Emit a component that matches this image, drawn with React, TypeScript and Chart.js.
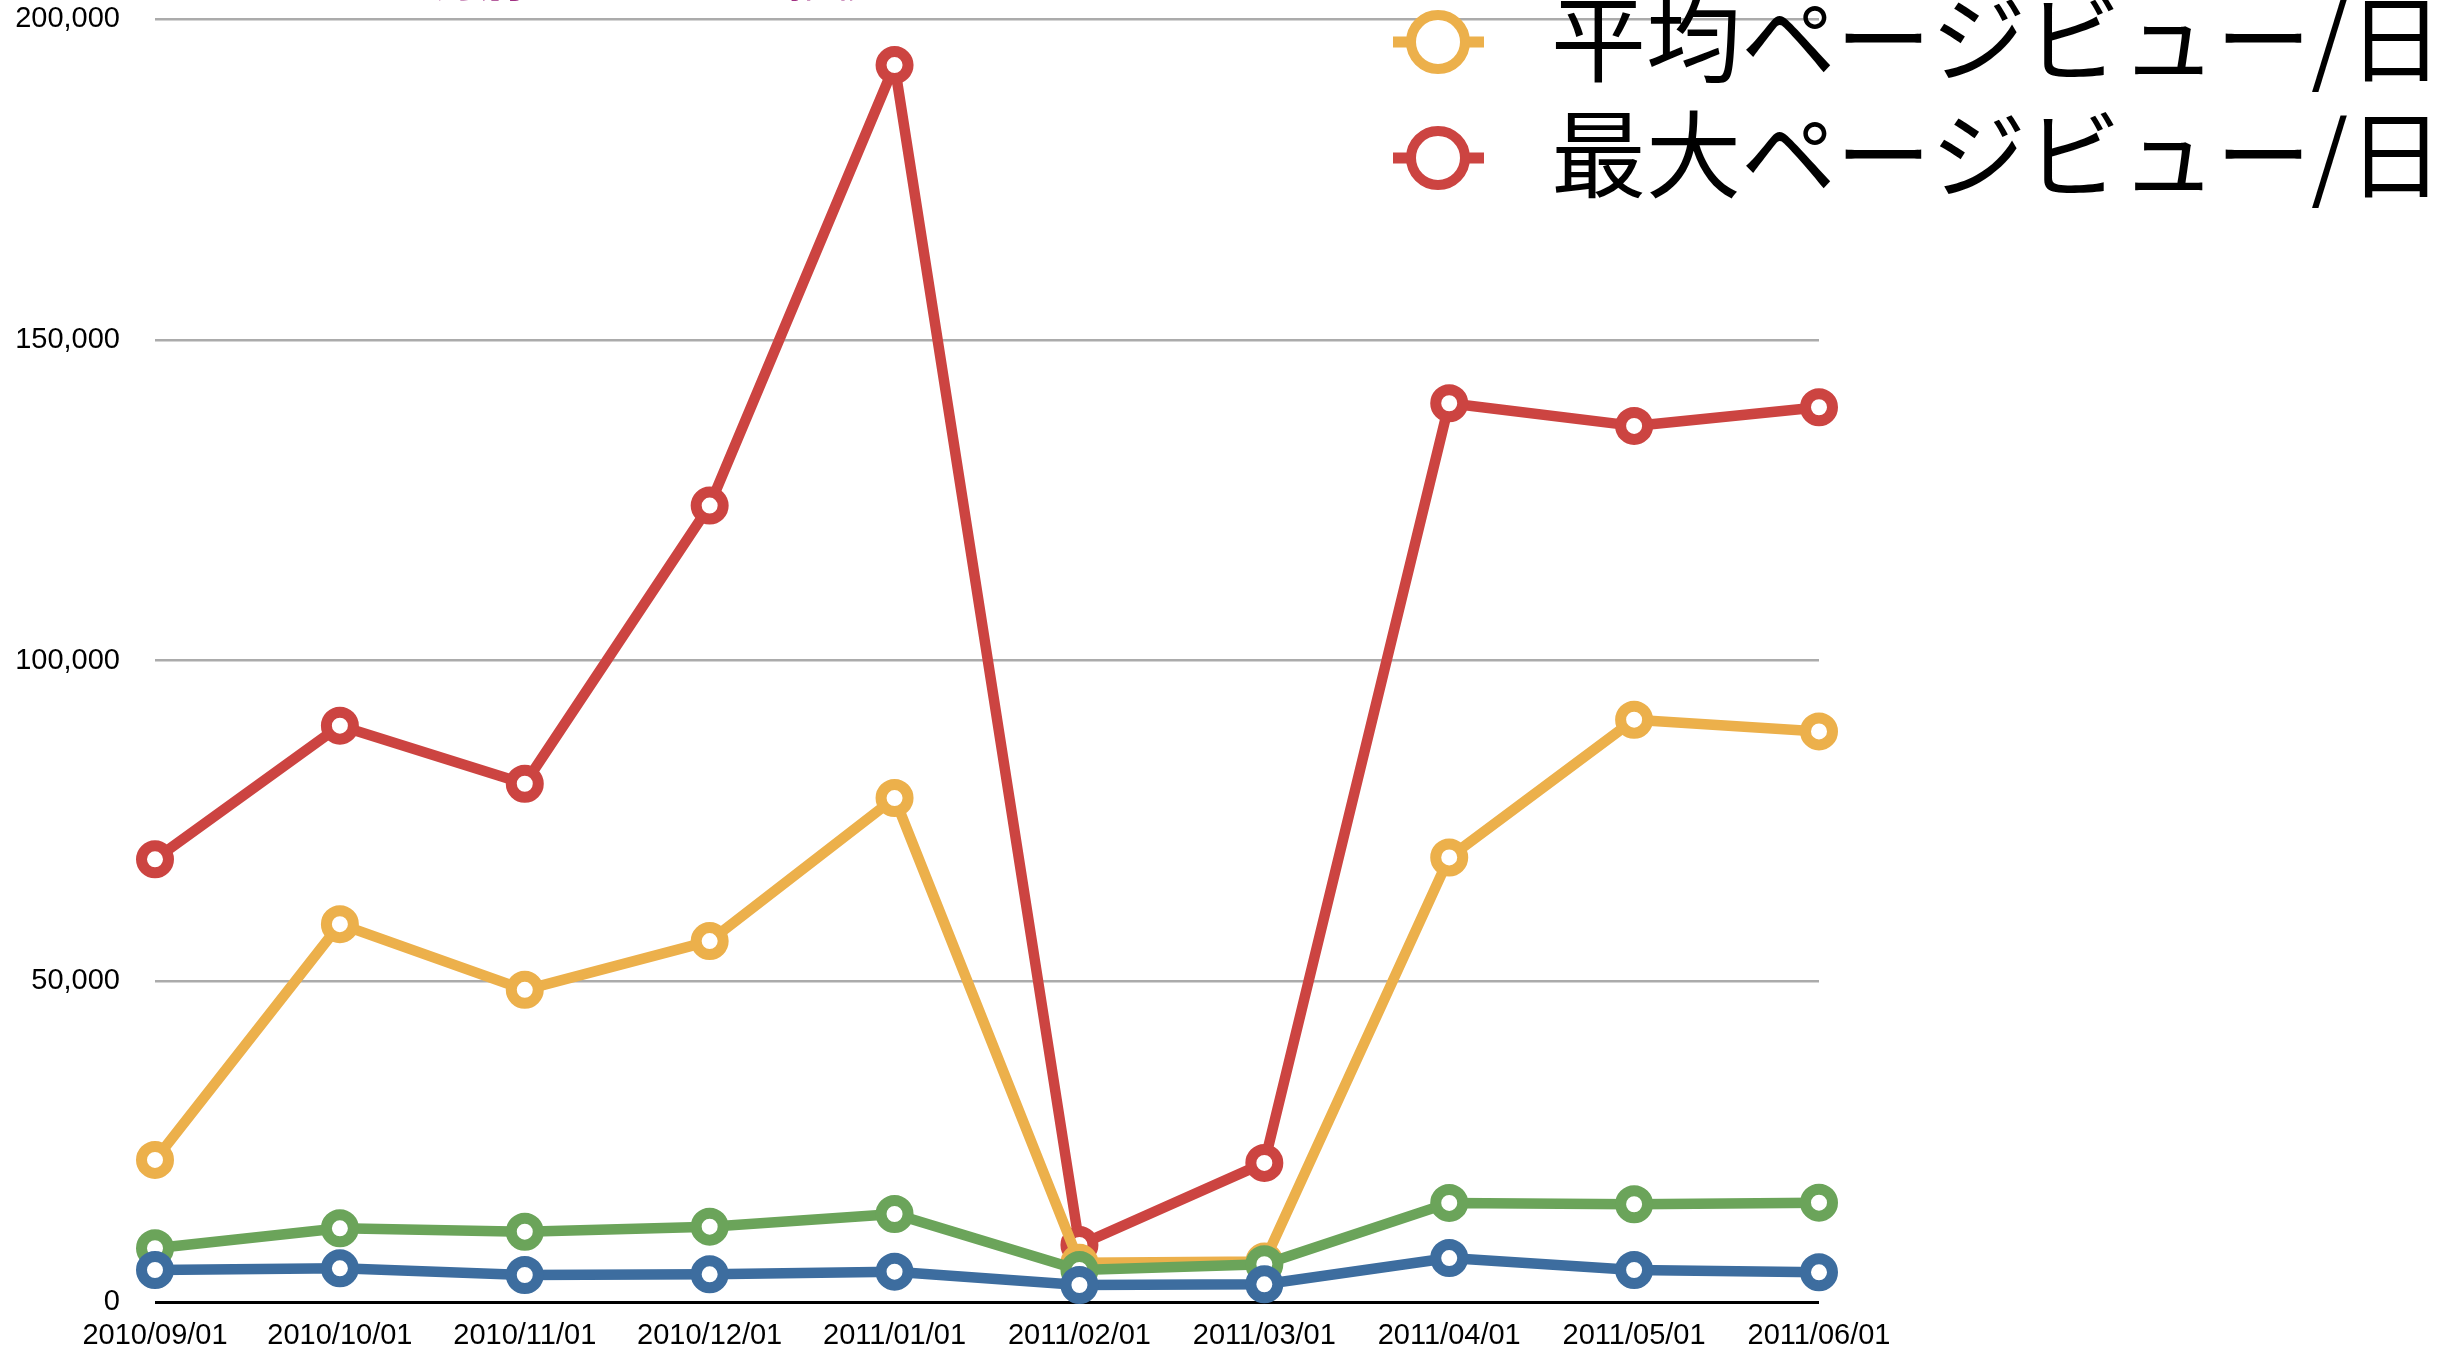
import React, { useEffect, useRef } from 'react';
import { Chart, registerables } from 'chart.js';

Chart.register(...registerables);

// ---- data ----
const categories = [
  '2010/09/01', '2010/10/01', '2010/11/01', '2010/12/01', '2011/01/01',
  '2011/02/01', '2011/03/01', '2011/04/01', '2011/05/01', '2011/06/01',
];
const avgVisitors = [4990, 5250, 4210, 4320, 4730, 2650, 2760, 6850, 4990, 4630];
const maxVisitors = [8380, 11490, 10960, 11740, 13720, 5000, 5900, 15450, 15240, 15490];
const avgPageViews = [22150, 58900, 48660, 56260, 78560, 6100, 6300, 69300, 90770, 88950];
const maxPageViews = [69000, 89840, 80790, 124150, 192810, 8890, 21680, 140100, 136570, 139480];
const seriesLabels = ['平均訪問者数/日', '最大訪問者数/日', '平均ページビュー/日', '最大ページビュー/日'];
const seriesColors = ['#3d6d9f', '#6ba45a', '#ecb04b', '#cc4441'];
const yMin = 0;
const yMax = 200000;
const yStep = 50000;
const titleText = '月別ページビュー推移';

const CJK = '"Noto Sans CJK JP", "Noto Sans CJK SC", sans-serif';
const LATIN = '"Liberation Sans", Arial, sans-serif';

const overlayPlugin = {
  id: 'overlayLegend',
  afterDraw(chart: any) {
    const ctx: CanvasRenderingContext2D = chart.ctx;
    ctx.save();
    // clipped title at top
    ctx.fillStyle = '#a03082';
    ctx.font = `44px ${CJK}`;
    ctx.textAlign = 'left';
    ctx.textBaseline = 'ideographic';
    ctx.fillText(titleText, 436, 2);

    // legend
    chart.data.datasets.forEach((ds: any, i: number) => {
      const cy = 42 + (i - 2) * 116;
      const cx = 1438;
      ctx.strokeStyle = ds.borderColor;
      ctx.lineCap = 'butt';
      ctx.lineWidth = 11;
      ctx.beginPath();
      ctx.moveTo(cx - 45, cy);
      ctx.lineTo(cx + 46, cy);
      ctx.stroke();
      ctx.beginPath();
      ctx.arc(cx, cy, 27, 0, Math.PI * 2);
      ctx.fillStyle = '#ffffff';
      ctx.fill();
      ctx.lineWidth = 10;
      ctx.stroke();
      ctx.fillStyle = '#000000';
      ctx.font = `95px ${CJK}`;
      ctx.textBaseline = 'middle';
      ctx.textAlign = 'left';
      ctx.fillText(ds.label, 1551, cy - 3);
    });
    ctx.restore();
  },
};

export default function App() {
  const ref = useRef<HTMLCanvasElement>(null);

  useEffect(() => {
    const seriesData = [avgVisitors, maxVisitors, avgPageViews, maxPageViews];
    const chart = new Chart(ref.current!, {
      type: 'line',
      data: {
        labels: categories,
        datasets: seriesData.map((d, i) => ({
          label: seriesLabels[i],
          data: d,
          borderColor: seriesColors[i],
          backgroundColor: seriesColors[i],
          borderWidth: 10.5,
          borderJoinStyle: 'round' as const,
          pointRadius: 13.5,
          pointHoverRadius: 13.5,
          pointBorderWidth: 11,
          pointBackgroundColor: '#ffffff',
          pointBorderColor: seriesColors[i],
          tension: 0,
          fill: false,
          clip: false as any,
        })),
      },
      options: {
        responsive: false,
        devicePixelRatio: 1,
        animation: false,
        layout: { autoPadding: false, padding: { left: 0, right: 645, top: 19, bottom: 0 } },
        plugins: {
          legend: { display: false },
          title: { display: false },
          tooltip: { enabled: false },
        },
        scales: {
          x: {
            type: 'category',
            offset: false,
            grid: { display: false, drawTicks: false },
            border: { display: false },
            ticks: {
              font: { family: LATIN, size: 29 },
              color: '#000',
              padding: 17,
              maxRotation: 0,
              autoSkip: false,
            },
            afterFit: (s: any) => {
              s.height = 50;
              s.paddingLeft = 0;
              s.paddingRight = 0;
            },
          },
          y: {
            min: yMin,
            max: yMax,
            grid: {
              drawTicks: false,
              color: (c: any) => (c.tick && c.tick.value === 0 ? '#000000' : '#ababab'),
              lineWidth: (c: any) => (c.tick && c.tick.value === 0 ? 3 : 2.5),
            },
            border: { display: false },
            ticks: {
              stepSize: yStep,
              font: { family: LATIN, size: 29 },
              color: '#000',
              padding: 35,
            },
            afterFit: (s: any) => {
              s.width = 155;
              s.paddingTop = 0;
              s.paddingBottom = 0;
            },
          },
        },
      },
      plugins: [overlayPlugin],
    });
    return () => chart.destroy();
  }, []);

  return (
    <div style={{ position: 'fixed', left: 0, top: 0, width: 2464, height: 1352, background: '#fff' }}>
      <canvas ref={ref} width={2464} height={1352} style={{ display: 'block', width: 2464, height: 1352 }} />
    </div>
  );
}
